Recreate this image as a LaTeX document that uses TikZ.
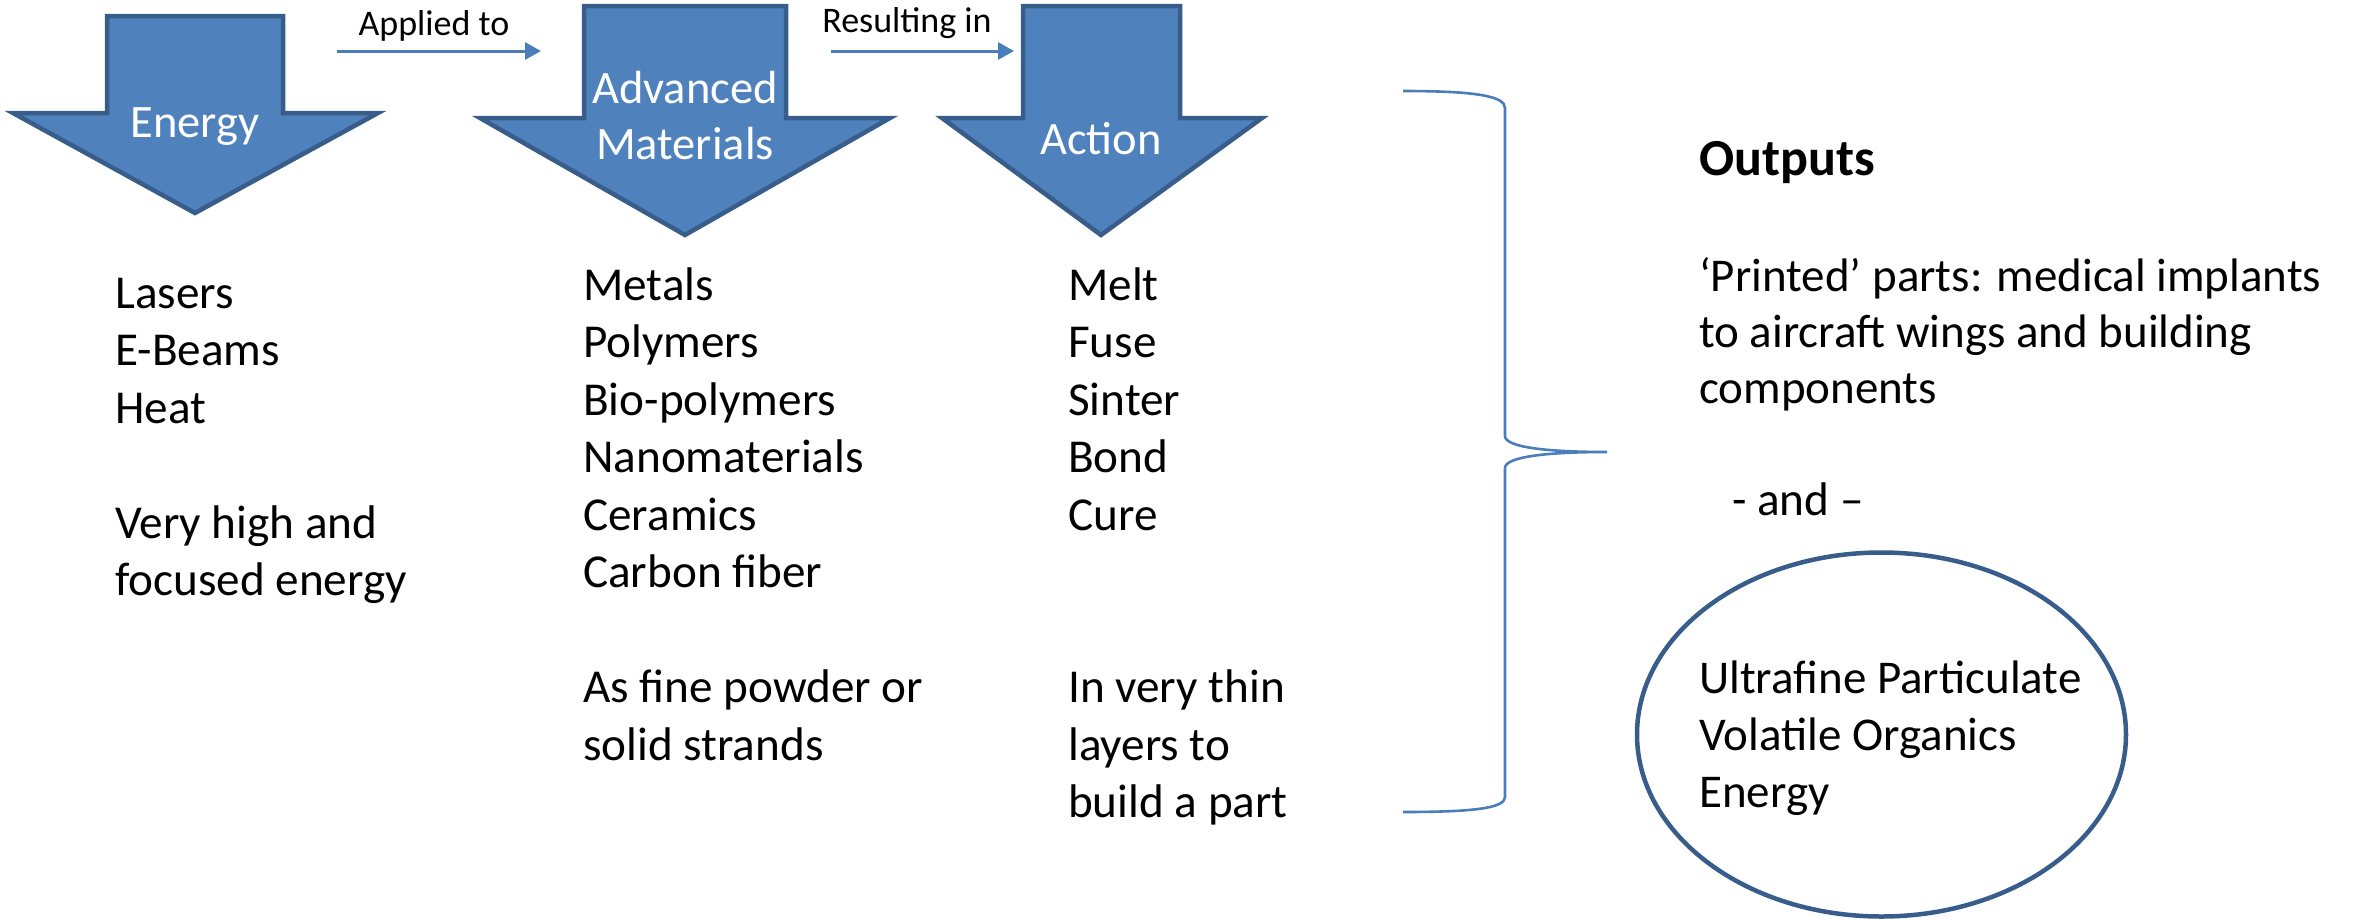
\documentclass[tikz,border=0pt]{standalone}
\usepackage{fontspec}
\setmainfont{Carlito}
\usetikzlibrary{arrows.meta,shapes.geometric}
\definecolor{fillblue}{HTML}{4F81BD}
\definecolor{edgeblue}{HTML}{385D8A}
\definecolor{lineblue}{HTML}{4A7EBB}
\begin{document}
\begin{tikzpicture}[x=1pt,y=-1pt,
  blockarrow/.style={fill=fillblue, draw=edgeblue, line width=4.5pt, line join=miter},
  arrowtext/.style={text=white, anchor=base, inner sep=0, font=\fontsize{46.5}{56.7}\selectfont},
  bodytext/.style={anchor=base west, inner sep=0, font=\fontsize{47.2}{57.5}\selectfont},
  smalltext/.style={anchor=base, inner sep=0, font=\fontsize{36}{44}\selectfont},
  thinarrow/.style={draw=lineblue, line width=3pt, -{Triangle[length=16pt,width=17pt]}},
  bracestyle/.style={draw=lineblue, line width=2.6pt},
  ovalstyle/.style={draw=edgeblue, line width=4.5pt, ellipse, inner sep=0}
]
\useasboundingbox (0,0) rectangle (2359,921);

% block arrows
\path[blockarrow] (107,16) -- (283,16) -- (283,113) -- (378,113) -- (195,213) -- (13,113) -- (107,113) -- cycle;
\path[blockarrow] (584,6) -- (786,6) -- (786,118) -- (890,118) -- (685,235) -- (480,118) -- (584,118) -- cycle;
\path[blockarrow] (1023,6) -- (1180,6) -- (1180,118) -- (1262,118) -- (1101,235) -- (942,118) -- (1023,118) -- cycle;

\node[arrowtext] (energy) at (195,137) {Energy};
\node[arrowtext] (advmat) at (685,103) {\begin{tabular}[t]{@{}c@{}}Advanced\\Materials\end{tabular}};
\node[arrowtext] (action) at (1101,154) {Action};

% small connectors
\node[smalltext] (applied) at (434,35) {Applied to};
\coordinate (a1) at (337,51);
\coordinate (a2) at (541,51);
\draw[thinarrow] (a1) -- (a2);
\node[smalltext] (result) at (907,32) {Resulting in};
\coordinate (r1) at (831,51);
\coordinate (r2) at (1014,51);
\draw[thinarrow] (r1) -- (r2);

% columns
\node[bodytext] (energylist) at (115,308) {\begin{tabular}[t]{@{}l@{}}Lasers\\E-Beams\\Heat\\ \\Very high and\\focused energy\end{tabular}};
\node[bodytext] (matlist) at (583,300) {\begin{tabular}[t]{@{}l@{}}Metals\\Polymers\\Bio-polymers\\Nanomaterials\\Ceramics\\Carbon fiber\\ \\As fine powder or\\solid strands\end{tabular}};
\node[bodytext] (actlist) at (1068,300) {\begin{tabular}[t]{@{}l@{}}Melt\\Fuse\\Sinter\\Bond\\Cure\\ \\ \\In very thin\\layers to\\build a part\end{tabular}};

% brace
\coordinate (bt) at (1403,91);
\coordinate (bb) at (1403,812);
\coordinate (btip) at (1607,452);
\draw[bracestyle] (bt) .. controls (1475,91) and (1505,96) .. (1505,108)
  -- (1505,436) .. controls (1505,447) and (1545,452) .. (btip)
  .. controls (1545,452) and (1505,457) .. (1505,468)
  -- (1505,797) .. controls (1505,808) and (1475,812) .. (bb);

% outputs
\node[anchor=base west, inner sep=0, font=\fontsize{52}{63}\selectfont\bfseries] (outtitle) at (1699,175) {Outputs};
\node[bodytext, font=\fontsize{47}{56.3}\selectfont] (outtext) at (1699,291) {\begin{tabular}[t]{@{}l@{}}‘Printed’ parts: medical implants\\to aircraft wings and building\\components\end{tabular}};
\node[bodytext] (andtext) at (1732,515) {- and –};
\node[ovalstyle, minimum width=489pt, minimum height=364pt] (oval) at (1881.5,734.5) {};
\node[bodytext, font=\fontsize{47}{57}\selectfont] (ovaltext) at (1699,693) {\begin{tabular}[t]{@{}l@{}}Ultrafine Particulate\\Volatile Organics\\Energy\end{tabular}};
\end{tikzpicture}
\end{document}
